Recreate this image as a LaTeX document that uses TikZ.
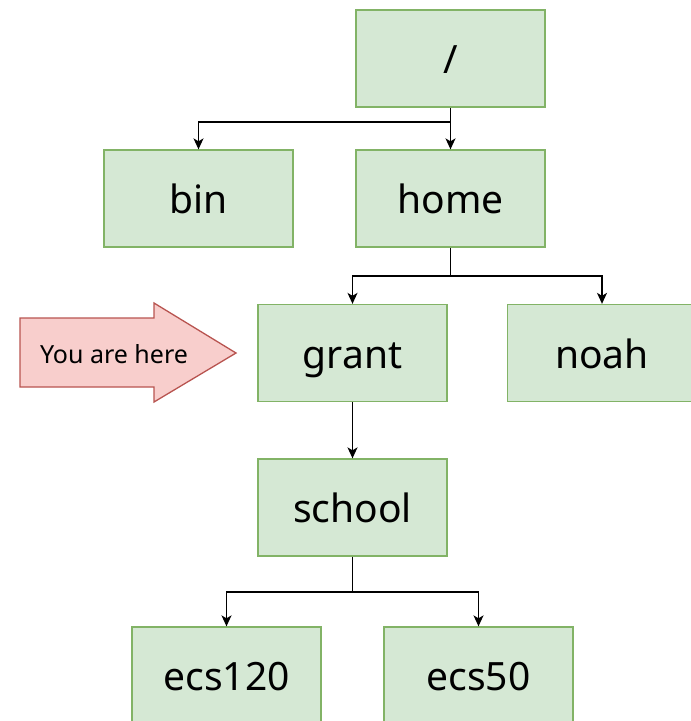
\documentclass[tikz,border=0pt]{standalone}
\usepackage{fontspec}
\setmainfont{Noto Sans}
\usetikzlibrary{arrows.meta}
\definecolor{gfill}{HTML}{D5E8D4}
\definecolor{gline}{HTML}{82B366}
\definecolor{rfill}{HTML}{F8CECC}
\definecolor{rline}{HTML}{B85450}
\begin{document}
\begin{tikzpicture}[x=1pt,y=-1pt,
  dirbox/.style={draw=gline,fill=gfill,line width=1.3pt,minimum width=189pt,minimum height=97pt,inner sep=0pt,text height=30pt,text depth=0pt,font=\fontsize{39}{45}\selectfont},
  conn/.style={line width=1.4pt,-{Stealth[length=11pt,width=10pt,inset=3pt]}},
  plain/.style={line width=1.4pt}]
\useasboundingbox (0,0) rectangle (691,721);
\node[dirbox] (root) at (450.5,58.5) {/};
\node[dirbox] (bin) at (198.5,198.5) {bin};
\node[dirbox] (home) at (450.5,198.5) {home};
\node[dirbox] (grant) at (352.5,353) {grant};
\node[dirbox] (noah) at (602,353) {noah};
\node[dirbox] (school) at (352.5,507.5) {school};
\node[dirbox] (ecsa) at (226.5,675.5) {ecs120};
\node[dirbox] (ecsb) at (478.5,675.5) {ecs50};
\coordinate (j1) at (450.5,122);
\coordinate (j2) at (450.5,276);
\coordinate (j3) at (352.5,592);
\draw[plain] (root.south) -- (j1);
\draw[conn] (j1) -| (bin.north);
\draw[conn] (j1) -- (home.north);
\draw[plain] (home.south) -- (j2);
\draw[conn] (j2) -| (grant.north);
\draw[conn] (j2) -| (noah.north);
\draw[conn] (grant.south) -- (school.north);
\draw[plain] (school.south) -- (j3);
\draw[conn] (j3) -| (ecsa.north);
\draw[conn] (j3) -| (ecsb.north);
\draw[draw=rline,fill=rfill,line width=1.3pt] (20,318) -- (154,318) -- (154,303) -- (236,353) -- (154,402) -- (154,387) -- (20,387) -- cycle;
\node[font=\fontsize{25}{30}\selectfont,anchor=center] (here) at (114,354) {You are here};
\end{tikzpicture}
\end{document}
